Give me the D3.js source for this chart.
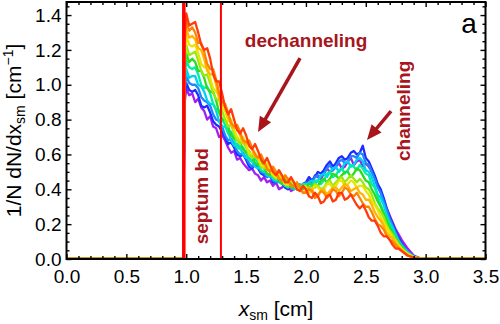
<!DOCTYPE html>
<html lang="en">
<head>
<meta charset="UTF-8">
<title>dN/dx_sm distribution</title>
<script src="https://d3js.org/d3.v7.min.js"></script>
<style>
    body { margin: 0; background: #fff; }
    text { font-family: "Liberation Sans", Arial, Helvetica, sans-serif; fill: #000; }
    .tick line { stroke: #000; stroke-width: 1.4px; }
</style>
</head>
<body>
<div id="chart"></div>
<script>
    // x positions of the histogram points (cm)
    const xSm = [0, 0.975, 0.985,
        1.000, 1.025, 1.050, 1.075, 1.100, 1.125, 1.150, 1.175, 1.200, 1.225, 1.250, 1.275, 1.300, 1.325,
        1.350, 1.375, 1.400, 1.425, 1.450, 1.475, 1.500, 1.525, 1.550, 1.575, 1.600, 1.625, 1.650, 1.675,
        1.700, 1.725, 1.750, 1.775, 1.800, 1.825, 1.850, 1.875, 1.900, 1.925, 1.950, 1.975, 2.000, 2.025,
        2.050, 2.075, 2.100, 2.125, 2.150, 2.175, 2.200, 2.225, 2.250, 2.275, 2.300, 2.325, 2.350, 2.375,
        2.400, 2.425, 2.450, 2.475, 2.500, 2.525, 2.550, 2.575, 2.600, 2.625, 2.650, 2.675, 2.700, 2.725,
        2.750, 2.775, 2.800,
        2.85, 2.90, 2.95, 3.00, 3.50];

    // one curve per setting, violet -> red
    const curveViolet = [0, 0, 0.88,
        0.98, 0.94, 0.95, 0.90, 0.92, 0.87, 0.85, 0.80, 0.82, 0.76, 0.75, 0.70, 0.71, 0.68, 0.64, 0.61, 0.62, 0.57,
        0.58, 0.55, 0.53, 0.51, 0.52, 0.49, 0.48, 0.45, 0.47, 0.44, 0.45, 0.42, 0.44, 0.40, 0.41, 0.43, 0.42, 0.39,
        0.40, 0.43, 0.42, 0.41, 0.43, 0.45, 0.44, 0.48, 0.47, 0.46, 0.49, 0.52, 0.50, 0.51, 0.53, 0.55, 0.52, 0.53,
        0.56, 0.58, 0.54, 0.56, 0.57, 0.53, 0.55, 0.53, 0.50, 0.47, 0.42, 0.38, 0.34, 0.29, 0.25, 0.21, 0.17, 0.14,
        0.11,
        0.06, 0.02, 0.005, 0, 0];
    const curveBlue = [0, 0, 0.92,
        1.01, 0.97, 0.96, 0.97, 0.94, 0.88, 0.87, 0.88, 0.84, 0.79, 0.77, 0.76, 0.73, 0.70, 0.66, 0.67, 0.64, 0.60,
        0.59, 0.60, 0.57, 0.53, 0.52, 0.55, 0.52, 0.49, 0.48, 0.47, 0.48, 0.44, 0.44, 0.45, 0.44, 0.41, 0.40, 0.43,
        0.42, 0.40, 0.41, 0.43, 0.44, 0.47, 0.45, 0.47, 0.50, 0.49, 0.51, 0.54, 0.56, 0.53, 0.55, 0.58, 0.59, 0.57,
        0.58, 0.61, 0.62, 0.60, 0.61, 0.65, 0.58, 0.56, 0.52, 0.48, 0.43, 0.40, 0.35, 0.29, 0.24, 0.20, 0.16, 0.12,
        0.09,
        0.04, 0.015, 0.004, 0, 0];
    const curveAzure = [0, 0, 0.95,
        1.05, 1.01, 1.00, 1.00, 0.98, 0.93, 0.91, 0.90, 0.88, 0.83, 0.80, 0.79, 0.76, 0.71, 0.68, 0.69, 0.66, 0.62,
        0.60, 0.61, 0.58, 0.55, 0.53, 0.55, 0.53, 0.50, 0.49, 0.47, 0.49, 0.45, 0.44, 0.46, 0.44, 0.42, 0.41, 0.43,
        0.42, 0.40, 0.41, 0.42, 0.44, 0.43, 0.44, 0.47, 0.48, 0.47, 0.49, 0.52, 0.54, 0.51, 0.53, 0.56, 0.57, 0.55,
        0.56, 0.59, 0.59, 0.58, 0.61, 0.60, 0.55, 0.54, 0.50, 0.46, 0.41, 0.38, 0.33, 0.28, 0.23, 0.19, 0.15, 0.11,
        0.08,
        0.04, 0.015, 0.004, 0, 0];
    const curveCyan = [0, 0, 0.98,
        1.09, 1.04, 1.05, 1.05, 1.00, 0.99, 0.96, 0.91, 0.89, 0.89, 0.85, 0.79, 0.76, 0.76, 0.73, 0.68, 0.65, 0.66,
        0.64, 0.60, 0.58, 0.58, 0.56, 0.53, 0.52, 0.54, 0.52, 0.48, 0.47, 0.49, 0.47, 0.44, 0.43, 0.45, 0.43, 0.41,
        0.40, 0.42, 0.43, 0.41, 0.42, 0.44, 0.45, 0.43, 0.45, 0.48, 0.49, 0.47, 0.50, 0.52, 0.53, 0.50, 0.52, 0.55,
        0.56, 0.53, 0.54, 0.57, 0.58, 0.56, 0.51, 0.50, 0.47, 0.42, 0.37, 0.35, 0.31, 0.25, 0.21, 0.18, 0.14, 0.10,
        0.08,
        0.04, 0.014, 0.003, 0, 0];
    const curveSpring = [0, 0, 1.02,
        1.14, 1.10, 1.09, 1.10, 1.06, 1.00, 0.98, 0.99, 0.95, 0.89, 0.86, 0.85, 0.80, 0.77, 0.72, 0.73, 0.69, 0.64,
        0.63, 0.64, 0.61, 0.57, 0.56, 0.58, 0.55, 0.51, 0.50, 0.52, 0.50, 0.46, 0.45, 0.47, 0.45, 0.42, 0.41, 0.44,
        0.43, 0.40, 0.40, 0.43, 0.43, 0.41, 0.42, 0.45, 0.45, 0.43, 0.45, 0.49, 0.50, 0.47, 0.48, 0.51, 0.52, 0.49,
        0.51, 0.54, 0.53, 0.51, 0.54, 0.52, 0.49, 0.48, 0.43, 0.41, 0.36, 0.31, 0.27, 0.24, 0.20, 0.16, 0.13, 0.10,
        0.07,
        0.03, 0.013, 0.003, 0, 0];
    const curveGreen = [0, 0, 1.06,
        1.18, 1.13, 1.15, 1.13, 1.08, 1.08, 1.04, 0.98, 0.96, 0.96, 0.91, 0.84, 0.80, 0.80, 0.76, 0.71, 0.69, 0.70,
        0.67, 0.63, 0.61, 0.62, 0.59, 0.55, 0.54, 0.56, 0.53, 0.49, 0.48, 0.50, 0.48, 0.45, 0.43, 0.46, 0.44, 0.41,
        0.41, 0.43, 0.42, 0.40, 0.41, 0.43, 0.43, 0.41, 0.42, 0.45, 0.46, 0.44, 0.46, 0.49, 0.48, 0.46, 0.48, 0.50,
        0.50, 0.47, 0.49, 0.52, 0.51, 0.48, 0.45, 0.44, 0.40, 0.37, 0.33, 0.30, 0.26, 0.22, 0.18, 0.15, 0.12, 0.09,
        0.07,
        0.03, 0.012, 0.003, 0, 0];
    const curveLime = [0, 0, 1.10,
        1.23, 1.17, 1.18, 1.19, 1.14, 1.08, 1.05, 1.06, 1.01, 0.95, 0.92, 0.91, 0.85, 0.80, 0.76, 0.77, 0.72, 0.68,
        0.66, 0.67, 0.64, 0.60, 0.58, 0.59, 0.57, 0.53, 0.52, 0.54, 0.51, 0.48, 0.46, 0.48, 0.46, 0.43, 0.42, 0.45,
        0.43, 0.41, 0.40, 0.42, 0.42, 0.39, 0.40, 0.43, 0.42, 0.40, 0.41, 0.44, 0.45, 0.42, 0.44, 0.46, 0.47, 0.44,
        0.46, 0.48, 0.46, 0.44, 0.46, 0.44, 0.41, 0.40, 0.37, 0.32, 0.29, 0.27, 0.24, 0.19, 0.16, 0.14, 0.11, 0.08,
        0.06,
        0.03, 0.011, 0.003, 0, 0];
    const curveYellow = [0, 0, 1.14,
        1.28, 1.23, 1.22, 1.23, 1.18, 1.12, 1.10, 1.10, 1.04, 0.98, 0.96, 0.94, 0.87, 0.85, 0.79, 0.80, 0.74, 0.70,
        0.68, 0.70, 0.66, 0.61, 0.60, 0.61, 0.58, 0.54, 0.53, 0.55, 0.51, 0.48, 0.47, 0.49, 0.46, 0.43, 0.43, 0.46,
        0.43, 0.40, 0.40, 0.42, 0.41, 0.38, 0.39, 0.42, 0.41, 0.39, 0.40, 0.43, 0.43, 0.41, 0.42, 0.45, 0.45, 0.42,
        0.43, 0.45, 0.44, 0.41, 0.42, 0.42, 0.39, 0.37, 0.33, 0.31, 0.28, 0.24, 0.21, 0.18, 0.15, 0.12, 0.10, 0.08,
        0.06,
        0.03, 0.01, 0.002, 0, 0];
    const curveGold = [0, 0, 1.18,
        1.32, 1.27, 1.28, 1.26, 1.21, 1.20, 1.15, 1.08, 1.06, 1.06, 1.00, 0.92, 0.88, 0.88, 0.82, 0.77, 0.75, 0.76,
        0.71, 0.67, 0.66, 0.67, 0.63, 0.59, 0.58, 0.59, 0.55, 0.51, 0.51, 0.52, 0.49, 0.46, 0.45, 0.48, 0.45, 0.42,
        0.42, 0.43, 0.41, 0.38, 0.39, 0.41, 0.40, 0.36, 0.37, 0.39, 0.40, 0.37, 0.39, 0.41, 0.41, 0.39, 0.41, 0.43,
        0.42, 0.39, 0.40, 0.41, 0.38, 0.37, 0.34, 0.34, 0.31, 0.27, 0.24, 0.22, 0.19, 0.15, 0.13, 0.12, 0.09, 0.07,
        0.05,
        0.02, 0.009, 0.002, 0, 0];
    const curveOrange = [0, 0, 1.22,
        1.36, 1.31, 1.33, 1.30, 1.24, 1.24, 1.19, 1.12, 1.09, 1.09, 1.03, 0.95, 0.90, 0.89, 0.84, 0.78, 0.76, 0.77,
        0.73, 0.68, 0.67, 0.68, 0.64, 0.60, 0.58, 0.60, 0.56, 0.52, 0.50, 0.53, 0.50, 0.46, 0.45, 0.48, 0.46, 0.42,
        0.42, 0.44, 0.41, 0.38, 0.38, 0.40, 0.39, 0.35, 0.36, 0.39, 0.38, 0.35, 0.37, 0.40, 0.39, 0.36, 0.38, 0.41,
        0.40, 0.37, 0.36, 0.38, 0.35, 0.32, 0.30, 0.30, 0.27, 0.23, 0.20, 0.19, 0.17, 0.13, 0.11, 0.10, 0.08, 0.06,
        0.05,
        0.02, 0.008, 0.002, 0, 0];
    const curveRed = [0, 0, 1.26,
        1.41, 1.34, 1.35, 1.36, 1.30, 1.23, 1.20, 1.21, 1.15, 1.06, 1.02, 1.02, 0.95, 0.87, 0.83, 0.86, 0.80, 0.74,
        0.72, 0.75, 0.71, 0.65, 0.63, 0.66, 0.62, 0.57, 0.55, 0.58, 0.54, 0.50, 0.48, 0.51, 0.48, 0.44, 0.44, 0.47,
        0.44, 0.40, 0.39, 0.42, 0.40, 0.36, 0.35, 0.38, 0.36, 0.32, 0.33, 0.36, 0.37, 0.33, 0.34, 0.38, 0.38, 0.34,
        0.35, 0.37, 0.34, 0.31, 0.29, 0.31, 0.28, 0.24, 0.22, 0.22, 0.19, 0.15, 0.13, 0.13, 0.11, 0.08, 0.06, 0.06,
        0.045,
        0.02, 0.007, 0.002, 0, 0];

    const curveColors = ["#a21ff2", "#1f2bff", "#1f86ff", "#00d0f2", "#00eea6", "#2adc22",
        "#9aea12", "#ece400", "#ffb400", "#ff8200", "#ff3b0a"];

    const xTicks = [0, 0.5, 1.0, 1.5, 2.0, 2.5, 3.0, 3.5];
    const yTicks = [0, 0.2, 0.4, 0.6, 0.8, 1.0, 1.2, 1.4];
    const septumEdges = [0.98, 1.29];

    const curves = [curveViolet, curveBlue, curveAzure, curveCyan, curveSpring, curveGreen,
        curveLime, curveYellow, curveGold, curveOrange, curveRed];

    const width = 500, height = 324;
    const m = { left: 66.5, right: 485.5, top: 2, bottom: 259 };
    const darkRed = "#a8151c";

    const x = d3.scaleLinear().domain([0, 3.5]).range([m.left, m.right]);
    const y = d3.scaleLinear().domain([0, 1.475]).range([m.bottom, m.top]);

    const svg = d3.select("#chart").append("svg")
        .attr("width", width)
        .attr("height", height);

    svg.append("clipPath").attr("id", "plotClip")
        .append("rect")
        .attr("x", m.left).attr("y", m.top)
        .attr("width", m.right - m.left).attr("height", m.bottom - m.top);

    // curves
    let line = d3.line()
        .x((d, i) => x(xSm[i]))
        .y(d => y(d));

    svg.append("g")
        .attr("clip-path", "url(#plotClip)")
        .selectAll("path")
        .data(curves)
        .enter().append("path")
        .attr("d", line)
        .attr("fill", "none")
        .attr("stroke", (d, i) => curveColors[i])
        .attr("stroke-width", 2.3)
        .attr("stroke-linejoin", "round");

    // septum boundaries
    svg.selectAll(".septum")
        .data(septumEdges)
        .enter().append("line")
        .attr("class", "septum")
        .attr("x1", d => x(d)).attr("x2", d => x(d))
        .attr("y1", y(0)).attr("y2", m.top)
        .attr("stroke", "#f00")
        .attr("stroke-width", (d, i) => i == 0 ? 3.5 : 2);

    // ticks: major + minor on all four sides, pointing inward
    let xMinor = d3.range(0, 3.51, 0.1).filter(v => Math.abs(v * 2 - Math.round(v * 2)) > 1e-6);
    let yMinor = d3.range(0, 1.46, 0.05).filter(v => Math.abs(v * 5 - Math.round(v * 5)) > 1e-6);

    function axisGroup(axis, tx, ty) {
        let g = svg.append("g")
            .attr("transform", "translate(" + tx + "," + ty + ")")
            .call(axis);
        g.select(".domain").remove();
        return g;
    }

    axisGroup(d3.axisBottom(x).tickValues(xTicks).tickSize(-5).tickPadding(11)
        .tickFormat(d3.format(".1f")), 0, m.bottom)
        .selectAll("text").style("font-size", "19px");
    axisGroup(d3.axisBottom(x).tickValues(xMinor).tickSize(-3).tickFormat(""), 0, m.bottom);
    axisGroup(d3.axisTop(x).tickValues(xTicks).tickSize(-5).tickFormat(""), 0, m.top);
    axisGroup(d3.axisTop(x).tickValues(xMinor).tickSize(-3).tickFormat(""), 0, m.top);

    axisGroup(d3.axisLeft(y).tickValues(yTicks).tickSize(-5).tickPadding(5)
        .tickFormat(d3.format(".1f")), m.left, 0)
        .selectAll("text").style("font-size", "19px");
    axisGroup(d3.axisLeft(y).tickValues(yMinor).tickSize(-3).tickFormat(""), m.left, 0);
    axisGroup(d3.axisRight(y).tickValues(yTicks).tickSize(-5).tickFormat(""), m.right, 0);
    axisGroup(d3.axisRight(y).tickValues(yMinor).tickSize(-3).tickFormat(""), m.right, 0);

    // frame
    svg.append("rect")
        .attr("x", m.left).attr("y", m.top)
        .attr("width", m.right - m.left).attr("height", m.bottom - m.top)
        .attr("fill", "none")
        .attr("stroke", "#000")
        .attr("stroke-width", 2);

    // axis titles
    let xt = svg.append("text")
        .attr("x", (m.left + m.right) / 2).attr("y", 316)
        .attr("text-anchor", "middle")
        .style("font-size", "21px");
    xt.append("tspan").style("font-style", "italic").text("x");
    xt.append("tspan").attr("dy", 4).style("font-size", "14px").text("sm");
    xt.append("tspan").attr("dy", -4).text(" [cm]");

    let yt = svg.append("text")
        .attr("transform", "translate(21," + ((m.top + m.bottom) / 2) + ") rotate(-90)")
        .attr("text-anchor", "middle")
        .style("font-size", "21px");
    yt.append("tspan").text("1/N dN/dx");
    yt.append("tspan").attr("dy", 4).style("font-size", "14px").text("sm");
    yt.append("tspan").attr("dy", -4).text(" [cm");
    yt.append("tspan").attr("dy", -8).style("font-size", "14px").text("\u22121");
    yt.append("tspan").attr("dy", 8).text("]");

    // panel letter
    svg.append("text")
        .attr("x", 469).attr("y", 33)
        .attr("text-anchor", "middle")
        .style("font-size", "28px")
        .text("a");

    // annotations
    svg.append("text")
        .attr("x", x(1.49)).attr("y", y(1.215))
        .style("font-size", "19px").style("font-weight", "bold")
        .style("fill", darkRed)
        .text("dechanneling");

    svg.append("text")
        .attr("transform", "translate(" + x(2.87) + "," + y(0.85) + ") rotate(-90)")
        .attr("text-anchor", "middle")
        .style("font-size", "19px").style("font-weight", "bold")
        .style("fill", darkRed)
        .text("channeling");

    svg.append("text")
        .attr("transform", "translate(" + x(1.185) + "," + y(0.36) + ") rotate(-90)")
        .attr("text-anchor", "middle")
        .style("font-size", "19px").style("font-weight", "bold")
        .style("fill", darkRed)
        .text("septum bd");

    // arrows (tail -> tip, in data units)
    const arrows = [
        [[1.951, 1.153], [1.600, 0.729]],
        [[2.711, 0.849], [2.510, 0.683]]
    ];

    arrows.forEach(function (a) {
        let x0 = x(a[0][0]), y0 = y(a[0][1]);
        let x1 = x(a[1][0]), y1 = y(a[1][1]);
        let ang = Math.atan2(y1 - y0, x1 - x0);
        let headLen = 15, headHalf = 6.5;
        let bx = x1 - headLen * Math.cos(ang), by = y1 - headLen * Math.sin(ang);
        svg.append("line")
            .attr("x1", x0).attr("y1", y0)
            .attr("x2", bx + 2 * Math.cos(ang)).attr("y2", by + 2 * Math.sin(ang))
            .attr("stroke", darkRed)
            .attr("stroke-width", 3.5);
        let px = -Math.sin(ang), py = Math.cos(ang);
        svg.append("path")
            .attr("d", "M" + x1 + "," + y1 +
                "L" + (bx + headHalf * px) + "," + (by + headHalf * py) +
                "L" + (bx - headHalf * px) + "," + (by - headHalf * py) + "Z")
            .attr("fill", darkRed);
    });

    curves.forEach((c, i) => { if (c.length != xSm.length) console.error("curve " + i + " has " + c.length); });
</script>
</body>
</html>
